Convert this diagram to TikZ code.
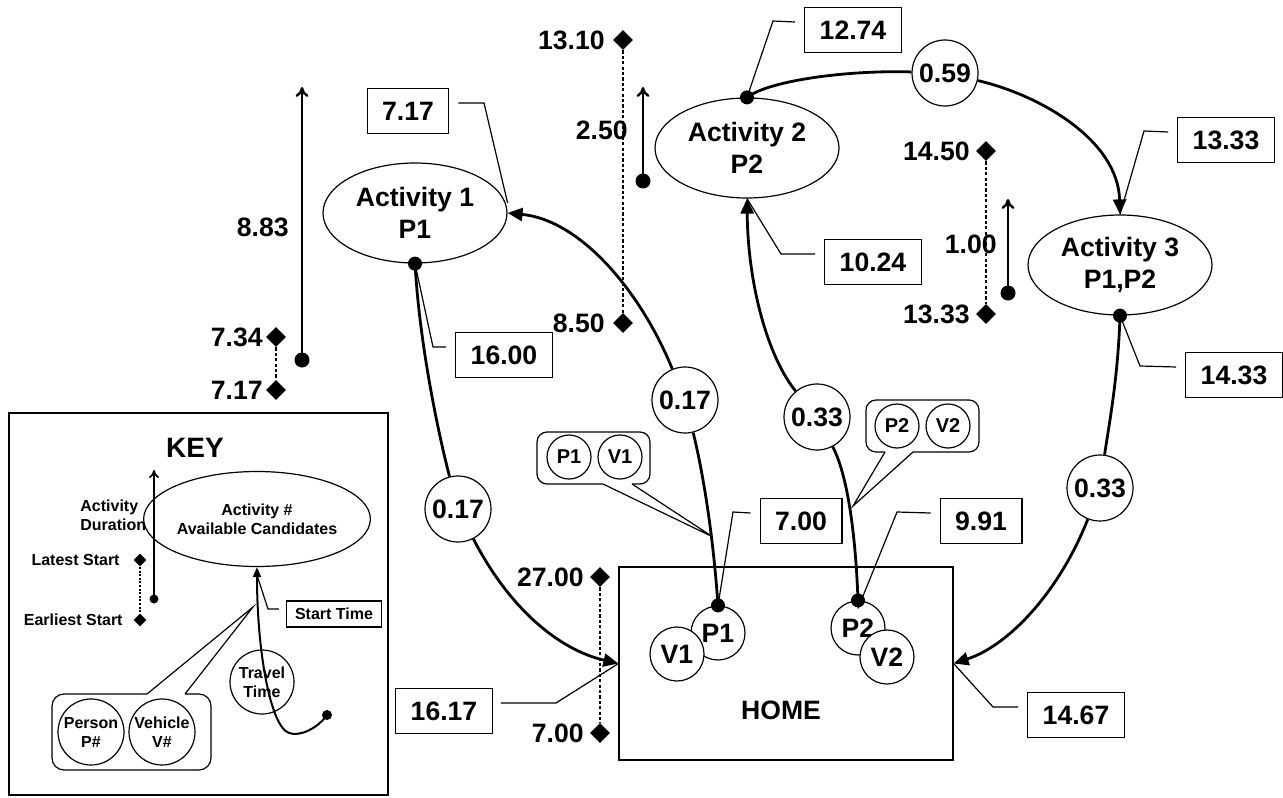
\documentclass[tikz,border=0pt]{standalone}
\usepackage{fontspec}
\setmainfont{Liberation Sans}
\usetikzlibrary{arrows.meta,shapes.geometric}

\begin{document}
\begin{tikzpicture}[x=0.5pt, y=-0.5pt,
    every node/.style={font=\fontsize{13.3}{16}\selectfont\bfseries},
    act/.style={draw, ellipse, line width=0.6pt, minimum width=92pt, minimum height=50pt, inner sep=0pt, align=center},
    ttime/.style={draw, circle, fill=white, line width=0.6pt, minimum size=33pt, inner sep=0pt},
    tbox/.style={draw, line width=0.6pt, inner xsep=7.5pt, inner ysep=0pt, minimum height=22.5pt},
    pv/.style={draw, circle, fill=white, line width=0.6pt, minimum size=27pt, inner sep=0pt},
    pvs/.style={draw, circle, line width=0.6pt, minimum size=22pt, inner sep=0pt, font=\fontsize{10}{12}\selectfont\bfseries},
    keytext/.style={font=\fontsize{8}{9.5}\selectfont\bfseries},
    dmd/.style={diamond, fill, minimum size=10pt, inner sep=0pt},
    lab/.style={inner sep=0pt, anchor=east},
    route/.style={line width=1.4pt},
    arr/.style={-{Triangle[length=7.5pt,width=6.5pt]}},
    window/.style={line width=1.4pt, dash pattern=on 1.6pt off 1.1pt},
    dur/.style={line width=1.2pt, -{To[length=5pt,width=6.5pt]}},
    lead/.style={line width=0.6pt}
]
\useasboundingbox (0,0) rectangle (1283,797);

% activities and home
\node[act] (a1) at (415,213) {Activity 1\\P1};
\node[act] (a2) at (747,148) {Activity 2\\P2};
\node[act] (a3) at (1120,265) {Activity 3\\P1,P2};
\node[draw, line width=0.6pt, minimum width=167pt, minimum height=96.5pt] (home) at (786,663.5) {};
\node (hometxt) at (781,710) {HOME};
\node[pv] (hp1) at (718,633) {P1};
\node[pv] (hv1) at (677,654) {V1};
\node[pv] (hp2) at (858,628) {P2};
\node[pv] (hv2) at (887,657) {V2};

% travel times
\node[ttime] (tt1) at (458,509) {0.17};
\node[ttime] (tt2) at (685,400) {0.17};
\node[ttime] (tt3) at (817,417) {0.33};
\node[ttime] (tt4) at (945,73) {0.59};
\node[ttime] (tt5) at (1100,488) {0.33};

% start times
\node[tbox] (b717) at (408,111) {7.17};
\node[tbox] (b1600) at (504,355) {16.00};
\node[tbox] (b1274) at (853,30) {12.74};
\node[tbox] (b1024) at (873,262) {10.24};
\node[tbox] (b1333) at (1226,140) {13.33};
\node[tbox] (b1433) at (1234,375) {14.33};
\node[tbox] (b700) at (801,521) {7.00};
\node[tbox] (b991) at (981,521) {9.91};
\node[tbox] (b1467) at (1076,715) {14.67};
\node[tbox] (b1617) at (444,711) {16.17};

% routes
\draw[route] (a1.south) .. controls (420,350) and (440,440) .. (tt1);
\draw[route, arr] (tt1) .. controls (510,610) and (560,650) .. (home.west);
\draw[route] (hp1.north) .. controls (712,520) and (700,460) .. (tt2);
\draw[route, arr] (tt2) .. controls (640,290) and (580,220) .. (a1.east);
\draw[route] (hp2.north) .. controls (855,520) and (845,470) .. (tt3);
\draw[route, arr] (tt3) .. controls (770,360) and (748,290) .. (a2.south);
\draw[route] (a2.north) .. controls (770,80) and (850,70) .. (tt4);
\draw[route, arr] (tt4) .. controls (1040,95) and (1118,140) .. (a3.north);
\draw[route] (a3.south) .. controls (1118,380) and (1108,430) .. (tt5);
\draw[route, arr] (tt5) .. controls (1060,590) and (1010,645) .. (home.east);
\fill (a1.south) circle (3.5pt);
\fill (a2.north) circle (3.5pt);
\fill (a3.south) circle (3.5pt);
\fill (hp1.north) circle (3.5pt);
\fill (hp2.north) circle (3.5pt);

% leaders
\draw[lead] ([xshift=4.5pt,yshift=4pt]b717.east) -- (484,103) -- ([yshift=5pt]a1.east);
\draw[lead] ([xshift=-4.5pt,yshift=4pt]b1600.west) -- (433,347) -- (a1.south);
\draw[lead] ([xshift=-4.5pt,yshift=4pt]b1274.west) -- (773,21) -- (a2.north);
\draw[lead] ([xshift=-4.5pt,yshift=4pt]b1024.west) -- (781,254) -- (a2.south);
\draw[lead] ([xshift=-4.5pt,yshift=4pt]b1333.west) -- (1144,131) -- (a3.north);
\draw[lead] ([xshift=-4.5pt,yshift=4pt]b1433.west) -- (1140,366) -- (a3.south);
\draw[lead] ([xshift=-4.5pt,yshift=4pt]b700.west) -- (733,512) -- (hp1.north);
\draw[lead] ([xshift=-4.5pt,yshift=4pt]b991.west) -- (897,512) -- ([yshift=-4pt]hp2.north);
\draw[lead] ([xshift=-4.5pt,yshift=4pt]b1467.west) -- (993,707) -- (home.east);
\draw[lead] ([xshift=4pt,yshift=4pt]b1617.east) -- (556,703) -- (home.west);

% crews
\node[draw, rounded corners=5pt, line width=0.6pt, minimum width=56.5pt, minimum height=26pt] (crew1) at (593.5,458) {};
\node[pvs] (cp1) at (569,457) {P1};
\node[pvs] (cv1) at (620,457) {V1};
\coordinate (crew1tip) at (713,537);
\fill[white] (604,481) -- (603,484) -- (crew1tip) -- (632,484) -- (631,481) -- cycle;
\draw[lead] (603,484) -- (crew1tip) -- (632,484);
\node[draw, rounded corners=5pt, line width=0.6pt, minimum width=56.5pt, minimum height=26pt] (crew2) at (922.5,426) {};
\node[pvs] (cp2) at (897,426) {P2};
\node[pvs] (cv2) at (948,426) {V2};
\coordinate (crew2tip) at (853,506);
\fill[white] (886,449) -- (885,452) -- (crew2tip) -- (913,452) -- (912,449) -- cycle;
\draw[lead] (885,452) -- (crew2tip) -- (913,452);

% time windows and durations
\node[dmd] (w1top) at (276,337) {};
\node[dmd] (w1bot) at (276,390) {};
\draw[window] (w1top) -- (w1bot);
\node[lab] at (263,337) {7.34};
\node[lab] at (263,390) {7.17};
\coordinate (d1s) at (302,360);
\coordinate (d1e) at (302,87);
\draw[dur] (d1s) -- (d1e);
\fill (d1s) circle (3.75pt);
\node[lab] at (289,227) {8.83};

\node[dmd] (w2top) at (623,40) {};
\node[dmd] (w2bot) at (623,323) {};
\draw[window] (w2top) -- (w2bot);
\node[lab] at (605,40) {13.10};
\node[lab] at (605,323) {8.50};
\coordinate (d2s) at (643,181);
\coordinate (d2e) at (643,87);
\draw[dur] (d2s) -- (d2e);
\fill (d2s) circle (3.75pt);
\node[lab] at (628,130) {2.50};

\node[dmd] (w3top) at (986,151) {};
\node[dmd] (w3bot) at (986,314) {};
\draw[window] (w3top) -- (w3bot);
\node[lab] at (970,151) {14.50};
\node[lab] at (970,314) {13.33};
\coordinate (d3s) at (1008,293);
\coordinate (d3e) at (1008,199);
\draw[dur] (d3s) -- (d3e);
\fill (d3s) circle (3.75pt);
\node[lab] at (997,244) {1.00};

\node[dmd] (w0top) at (600,577) {};
\node[dmd] (w0bot) at (600,733) {};
\draw[window] (w0top) -- (w0bot);
\node[lab] at (584,577) {27.00};
\node[lab] at (584,733) {7.00};

% key
\draw[line width=1pt] (9,413) rectangle (388,795);
\node[font=\fontsize{14}{16}\selectfont\bfseries] (keyttl) at (195,448) {KEY};
\node[act, keytext, minimum width=91pt, minimum height=47.5pt] (kact) at (257,519) {Activity \#\\Available Candidates};
\coordinate (kds) at (154,599);
\coordinate (kde) at (154,470);
\draw[line width=0.85pt, -{To[length=4pt,width=5pt]}] (kds) -- (kde);
\fill (kds) circle (2.25pt);
\node[keytext, align=left, anchor=west, inner sep=0pt] (kdur) at (80,515) {Activity\\Duration};
\node[dmd, minimum size=6.5pt] (kwtop) at (140,560) {};
\node[dmd, minimum size=6.5pt] (kwbot) at (140,620) {};
\draw[line width=0.8pt, dash pattern=on 1pt off 0.8pt] (kwtop) -- (kwbot);
\node[keytext, lab] (klate) at (120,560) {Latest Start};
\node[keytext, lab] (kearly) at (123,620) {Earliest Start};
\node[draw, line width=0.6pt, keytext, inner xsep=4.25pt, inner ysep=0pt, minimum height=13pt] (kstart) at (334,614) {Start Time};
\node[draw, circle, line width=0.6pt, minimum size=32pt, inner sep=0pt, keytext, align=center] (ktt) at (262,682) {Travel\\Time};
\coordinate (kdot) at (327,715);
\draw[line width=1pt, -{Triangle[length=5pt,width=4pt]}] (kdot) .. controls (318,728) and (300,737) .. (289,733) .. controls (270,726) and (257,650) .. (kact.south);
\fill (kdot) circle (2.5pt);
\draw[lead] ([xshift=-3.5pt,yshift=2.5pt]kstart.west) -- (268,609) -- ([yshift=-4pt]kact.south);
\node[draw, rounded corners=6pt, line width=0.6pt, minimum width=79.5pt, minimum height=38pt] (kcrew) at (131.5,732) {};
\node[draw, circle, line width=0.6pt, minimum size=33pt, inner sep=0pt, keytext, align=center] (kperson) at (91,732) {Person\\P\#};
\node[draw, circle, line width=0.6pt, minimum size=33pt, inner sep=0pt, keytext, align=center] (kvehicle) at (162,732) {Vehicle\\V\#};
\coordinate (kcrewtip) at (253,607);
\fill[white] (148,697) -- (147,694) -- (kcrewtip) -- (185,694) -- (184,697) -- cycle;
\draw[lead] (147,694) -- (kcrewtip) -- (185,694);
\end{tikzpicture}
\end{document}
